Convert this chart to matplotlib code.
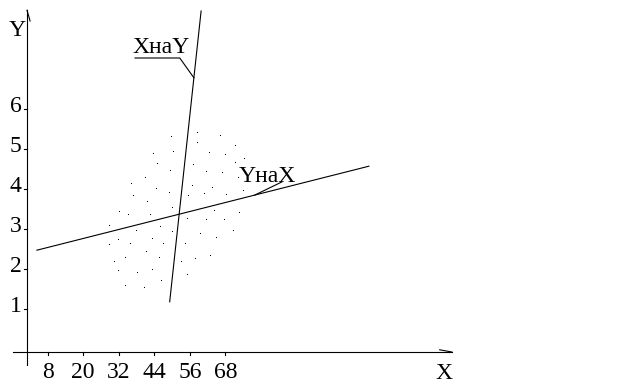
import numpy as np
import matplotlib
matplotlib.use("Agg")
import matplotlib.pyplot as plt

plt.rcParams['font.family'] = ['Liberation Serif', 'DejaVu Serif']

# tick labels
x_ticks = [8, 20, 32, 44, 56, 68]
y_ticks = [1, 2, 3, 4, 5, 6]

# correlation field (X, Y)
pts_x = [49.8, 50.4, 43.6, 45.0, 49.4, 40.9, 36.1, 44.6, 49.0, 36.9, 41.6, 50.0,
         58.5, 66.2, 58.4, 71.3, 62.5, 67.9, 57.1, 71.3, 61.3, 66.9, 56.7, 63.4,
         60.7, 55.4, 74.0, 68.2, 74.3, 72.3, 32.2, 35.2, 42.7, 28.8, 50.0, 37.7,
         46.0, 31.9, 35.9, 43.2, 46.8, 28.8, 41.3, 34.2, 45.6, 30.5, 31.9, 38.3,
         43.3, 46.2, 34.2, 40.6, 54.9, 61.3, 64.2, 67.6, 72.7, 70.7, 59.5, 64.9,
         54.5, 62.9, 57.8, 53.1, 55.1]
pts_y = [5.29, 4.92, 4.87, 4.62, 4.44, 4.27, 4.12, 3.99, 3.90, 3.83, 3.68, 3.52,
         5.39, 5.33, 5.14, 5.07, 4.91, 4.85, 4.60, 4.64, 4.42, 4.39, 4.08, 4.02,
         3.88, 3.83, 3.95, 3.85, 4.74, 4.27, 3.43, 3.34, 3.34, 3.08, 2.92, 2.95,
         3.04, 2.73, 2.62, 2.74, 2.62, 2.60, 2.43, 2.28, 2.27, 2.18, 1.94, 1.89,
         1.98, 1.70, 1.58, 1.52, 3.24, 3.22, 3.44, 3.22, 3.41, 2.96, 2.88, 2.77,
         2.62, 2.32, 2.25, 2.18, 1.84]

# regression lines
yx_x = [4.4, 116.4]
yx_y = [2.47, 4.57]
xy_x = [49.2, 59.8]
xy_y = [1.18, 8.45]

fig = plt.figure(figsize=(6.18, 3.86), dpi=100)
ax = fig.add_axes([0, 0, 1, 1])
ax.set_xlim(-8.05, 200.45)
ax.set_ylim(-0.925, 8.725)
ax.axis('off')

lw = 0.8
fs = 17
# axes
ax.plot([1.06, 1.06], [-0.4, 8.47], color='black', lw=lw)
ax.plot([-3.7, 144.4], [-0.075, -0.075], color='black', lw=lw)
ax.plot([1.06, 2.1], [8.47, 8.2], color='black', lw=lw)
ax.plot([140.3, 144.4], [-0.02, -0.075], color='black', lw=lw)

for t in x_ticks:
    ax.plot([t, t], [-0.075, -0.14], color='black', lw=lw)
    ax.annotate(str(t), (t, -0.075), xytext=(0, -7), textcoords='offset points',
                ha='center', va='top', fontsize=fs)
for t in y_ticks:
    ax.plot([0.1, 1.06], [t, t], color='black', lw=lw)
    ax.annotate(str(t), (1.06, t), xytext=(-4, 2), textcoords='offset points',
                ha='right', va='center', fontsize=fs)

ax.text(-2.2, 7.95, 'Y', fontsize=fs, ha='center', va='center')
ax.text(141.9, -0.61, 'X', fontsize=fs, ha='center', va='center')

# points and lines
ax.plot(pts_x, pts_y, ',', color='black')
ax.plot(yx_x, yx_y, color='black', lw=lw)
ax.plot(xy_x, xy_y, color='black', lw=lw)

# labels with leaders
ax.text(36.6, 7.4, 'XнаY', fontsize=fs, ha='left', va='baseline')
y_lead = 6.78
x_lead = np.interp(y_lead, xy_y, xy_x)
ax.plot([37.5, 52.6, x_lead], [7.275, 7.275, y_lead], color='black', lw=lw)

ax.text(72.6, 4.175, 'YнаX', fontsize=fs, ha='left', va='baseline')
x_lead2 = 77.9
y_lead2 = np.interp(x_lead2, yx_x, yx_y)
ax.plot([x_lead2, 87.0], [y_lead2, 4.175], color='black', lw=lw)

fig.savefig('out.png', dpi=100)
